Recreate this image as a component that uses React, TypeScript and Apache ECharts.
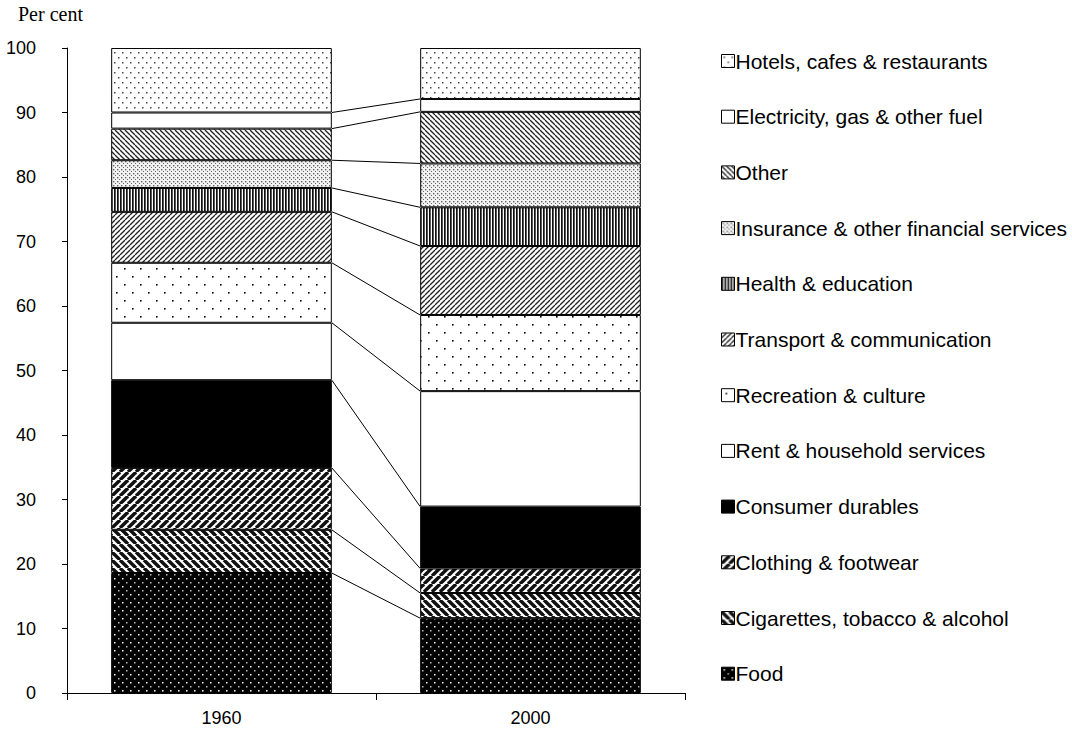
import React, { useEffect, useRef } from "react";
import * as echarts from "echarts";

const years = ["1960", "2000"];
const seriesNames = [
  "Food",
  "Cigarettes, tobacco & alcohol",
  "Clothing & footwear",
  "Consumer durables",
  "Rent & household services",
  "Recreation & culture",
  "Transport & communication",
  "Health & education",
  "Insurance & other financial services",
  "Other",
  "Electricity, gas & other fuel",
  "Hotels, cafes & restaurants",
];
const food = [18.6, 11.6];
const tobacco = [6.7, 3.9];
const clothing = [9.6, 3.8];
const durables = [13.6, 9.6];
const rent = [8.9, 17.9];
const recreation = [9.3, 11.8];
const transport = [7.9, 10.7];
const health = [3.7, 6.0];
const insurance = [4.3, 6.8];
const other = [4.9, 8.0];
const electricity = [2.5, 2.0];
const hotels = [10.0, 7.9];
const seriesValues = [food, tobacco, clothing, durables, rent, recreation, transport, health, insurance, other, electricity, hotels];
const patternKeys = ["food", "tobacco", "clothing", "solid", "white", "recreation", "transport", "health", "insurance", "other", "white", "hotels"];
const yTicks = { min: 0, max: 100, interval: 10 };

const BAR_RATIO = 0.714;

function tile(w: number, h: number, bg: string, draw: (ctx: CanvasRenderingContext2D) => void) {
  const c = document.createElement("canvas");
  c.width = w;
  c.height = h;
  const ctx = c.getContext("2d")!;
  ctx.fillStyle = bg;
  ctx.fillRect(0, 0, w, h);
  draw(ctx);
  return { image: c, repeat: "repeat" } as any;
}

function stripes(n: number, lw: number, color: string, dir: "up" | "down") {
  return tile(n, n, "#fff", (ctx) => {
    ctx.strokeStyle = color;
    ctx.lineWidth = lw;
    for (const k of [-n, 0, n]) {
      ctx.beginPath();
      if (dir === "up") {
        ctx.moveTo(k, n);
        ctx.lineTo(k + n, 0);
      } else {
        ctx.moveTo(k, 0);
        ctx.lineTo(k + n, n);
      }
      ctx.stroke();
    }
  });
}

function makePatterns(): Record<string, any> {
  return {
    food: tile(8, 8, "#000", (ctx) => {
      ctx.fillStyle = "#fff";
      ctx.fillRect(2, 2, 1.5, 1.5);
      ctx.fillStyle = "#bbb";
      ctx.fillRect(6, 6, 1.5, 1.5);
    }),
    tobacco: stripes(8, 3.4, "#111", "down"),
    clothing: stripes(8, 3.4, "#111", "up"),
    solid: "#000",
    white: "#fff",
    recreation: tile(16, 16, "#fff", (ctx) => {
      ctx.fillStyle = "#000";
      ctx.fillRect(4, 4, 1.6, 1.6);
      ctx.fillRect(12, 12, 1.6, 1.6);
    }),
    transport: stripes(5, 1.3, "#222", "up"),
    other: stripes(5, 1.3, "#222", "down"),
    health: tile(3, 3, "#fff", (ctx) => {
      ctx.fillStyle = "#111";
      ctx.fillRect(0, 0, 1.7, 3);
    }),
    insurance: tile(4, 4, "#f2f2f2", (ctx) => {
      ctx.fillStyle = "#666";
      ctx.fillRect(1, 1, 1.4, 1.4);
      ctx.fillRect(3, 3, 1, 1);
    }),
    hotels: tile(8, 10, "#fff", (ctx) => {
      ctx.fillStyle = "#444";
      ctx.fillRect(2, 2, 1.5, 1.5);
      ctx.fillRect(6, 7, 1.5, 1.5);
    }),
  };
}

export default function App() {
  const ref = useRef<HTMLDivElement>(null);
  useEffect(() => {
    if (!ref.current) return;
    const chart = echarts.init(ref.current, null, { renderer: "svg" });
    const patterns = makePatterns();
    const sansFont = "'Liberation Sans', Arial, sans-serif";

    const cum1960: number[] = [];
    const cum2000: number[] = [];
    let a = 0,
      b = 0;
    seriesValues.forEach((v) => {
      a += v[0];
      b += v[1];
      cum1960.push(Math.round(a * 10) / 10);
      cum2000.push(Math.round(b * 10) / 10);
    });
    const connectorData = cum1960.slice(0, -1).map((v, i) => [0, v, cum2000[i]]);

    const barSeries = seriesNames.map((name, i) => ({
      name,
      type: "bar",
      stack: "total",
      barWidth: BAR_RATIO * 100 + "%",
      data: seriesValues[i],
      itemStyle: {
        color: patterns[patternKeys[i]],
        borderColor: "#000",
        borderWidth: 1,
      },
      emphasis: { disabled: true },
      z: 3,
    }));

    chart.setOption({
      animation: false,
      backgroundColor: "#fff",
      grid: { left: 67, right: 387, top: 48, bottom: 36 },
      xAxis: {
        type: "category",
        data: years,
        axisLine: { lineStyle: { color: "#000", width: 1 } },
        axisTick: { show: true, length: 7, lineStyle: { color: "#000" } },
        axisLabel: { color: "#000", fontSize: 18, fontFamily: sansFont, margin: 16 },
      },
      yAxis: {
        type: "value",
        min: yTicks.min,
        max: yTicks.max,
        interval: yTicks.interval,
        axisLine: { show: true, lineStyle: { color: "#000", width: 1 } },
        axisTick: { show: true, length: 5, lineStyle: { color: "#000" } },
        splitLine: { show: false },
        axisLabel: { color: "#000", fontSize: 18, fontFamily: sansFont, margin: 31 },
      },
      legend: {
        orient: "vertical",
        left: 716,
        top: 44,
        icon: "rect",
        itemWidth: 13,
        itemHeight: 13,
        itemGap: 31.7,
        selectedMode: false,
        data: [...seriesNames].reverse(),
        itemStyle: { borderColor: "#000", borderWidth: 1 },
        textStyle: { color: "#000", fontSize: 21, lineHeight: 24, fontFamily: sansFont, padding: [0, 0, 0, -4] },
      },
      graphic: [
        {
          type: "text",
          left: 18,
          top: 4,
          style: {
            text: "Per cent",
            fontSize: 20,
            fontFamily: "'Liberation Serif', 'Times New Roman', serif",
            fill: "#000",
          },
        },
      ],
      series: [
        ...barSeries,
        {
          name: "connectors",
          type: "custom",
          data: connectorData,
          encode: { x: 0, y: 1 },
          z: 2,
          silent: true,
          renderItem: (params: any, api: any) => {
            const p0 = api.coord([0, api.value(1)]);
            const p1 = api.coord([1, api.value(2)]);
            const band = api.size([1, 0])[0];
            const half = (band * BAR_RATIO) / 2;
            return {
              type: "line",
              shape: { x1: p0[0] + half, y1: p0[1], x2: p1[0] - half, y2: p1[1] },
              style: { stroke: "#000", lineWidth: 1 },
            };
          },
        },
      ],
    } as any);
    return () => chart.dispose();
  }, []);
  return <div ref={ref} style={{ width: 1072, height: 729, position: "absolute", left: 0, top: 0 }} />;
}
